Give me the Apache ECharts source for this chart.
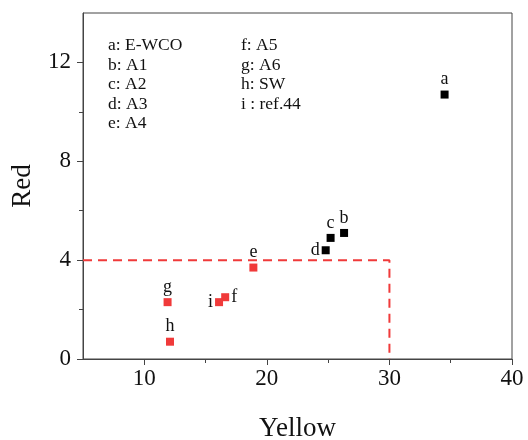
<!DOCTYPE html>
<html><head><meta charset="utf-8">
<script src="https://cdn.jsdelivr.net/npm/echarts@6/dist/echarts.min.js"></script>
<style>html,body{margin:0;padding:0;background:#fff}#c{width:528px;height:440px}</style>
</head><body><div id="c"></div>
<script>
// data
const blackNames = ['a','b','c','d'];
const blackX = [34.5, 26.3, 25.2, 24.8];
const blackY = [10.7, 5.1, 4.9, 4.4];
const redNames = ['e','f','g','h','i'];
const redX = [18.9, 16.6, 11.9, 12.1, 16.1];
const redY = [3.7, 2.5, 2.3, 0.7, 2.3];
const limitX = [5, 30, 30];
const limitY = [4, 4, 0];
const xTicks = [10, 20, 30, 40];
const xMinor = [15, 25, 35];
const yTicks = [0, 4, 8, 12];
const yMinor = [2, 6, 10];
const legendCol1 = ['a: E-WCO','b: A1','c: A2','d: A3','e: A4'];
const legendCol2 = ['f: A5','g: A6','h: SW','i : ref.44'];
const labelPos = {a:'top',b:'top',c:'top',d:'left',e:'top',f:'right',g:'top',h:'top',i:'left'};

const FONT = 'Liberation Serif';
const RED = '#f03a3a';
function pts(names, xs, ys){
  return names.map((n,i)=>({name:n, value:[xs[i], ys[i]], label:{position:labelPos[n]}}));
}
const chart = echarts.init(document.getElementById('c'));
chart.setOption({
  animation:false,
  grid:{left:83, right:16, top:13, bottom:81, outerBoundsMode:'none', containLabel:false,
        show:true, borderColor:'#444', borderWidth:1},
  xAxis:[{
    type:'value', min:5, max:40, interval:5,
    name:'Yellow', nameLocation:'middle', nameGap:56,
    nameTextStyle:{fontFamily:FONT, fontSize:27, color:'#111'},
    axisLine:{show:true, onZero:false, lineStyle:{color:'#444'}},
    axisTick:{show:true, length:6, customValues:xTicks, lineStyle:{color:'#444'}},
    axisLabel:{customValues:xTicks, fontFamily:FONT, fontSize:23, color:'#111', margin:8},
    splitLine:{show:false}
  },{
    type:'value', min:5, max:40, position:'bottom',
    axisLine:{show:false},
    axisTick:{show:true, length:4, customValues:xMinor, lineStyle:{color:'#444'}},
    axisLabel:{show:false}, splitLine:{show:false}
  }],
  yAxis:[{
    type:'value', min:0, max:14, interval:2,
    name:'Red', nameLocation:'middle', nameGap:47,
    nameTextStyle:{fontFamily:FONT, fontSize:27, color:'#111'},
    axisLine:{show:true, onZero:false, lineStyle:{color:'#444'}},
    axisTick:{show:true, length:6, customValues:yTicks, lineStyle:{color:'#444'}},
    axisLabel:{customValues:yTicks, fontFamily:FONT, fontSize:23, color:'#111', margin:12},
    splitLine:{show:false}
  },{
    type:'value', min:0, max:14, position:'left',
    axisLine:{show:false},
    axisTick:{show:true, length:4, customValues:yMinor, lineStyle:{color:'#444'}},
    axisLabel:{show:false}, splitLine:{show:false}
  }],
  graphic:[
    {type:'text', left:108, top:36, style:{text:legendCol1.join('\n'), font:'17.5px "Liberation Serif"', lineHeight:19.5, fill:'#111'}},
    {type:'text', left:241, top:36, style:{text:legendCol2.join('\n'), font:'17.5px "Liberation Serif"', lineHeight:19.5, fill:'#111'}}
  ],
  series:[
    {type:'line', data:limitX.map((x,i)=>[x, limitY[i]]), showSymbol:false, symbol:'none',
     lineStyle:{color:RED, width:2, type:[9,6]}, z:1},
    {type:'scatter', symbol:'rect', symbolSize:8, itemStyle:{color:'#000', opacity:1},
     data:pts(blackNames, blackX, blackY),
     label:{show:true, formatter:'{b}', fontFamily:FONT, fontSize:18, color:'#111', distance:2}},
    {type:'scatter', symbol:'rect', symbolSize:8, itemStyle:{color:RED, opacity:1},
     data:pts(redNames, redX, redY),
     label:{show:true, formatter:'{b}', fontFamily:FONT, fontSize:18, color:'#111', distance:2}}
  ]
});
</script></body></html>
